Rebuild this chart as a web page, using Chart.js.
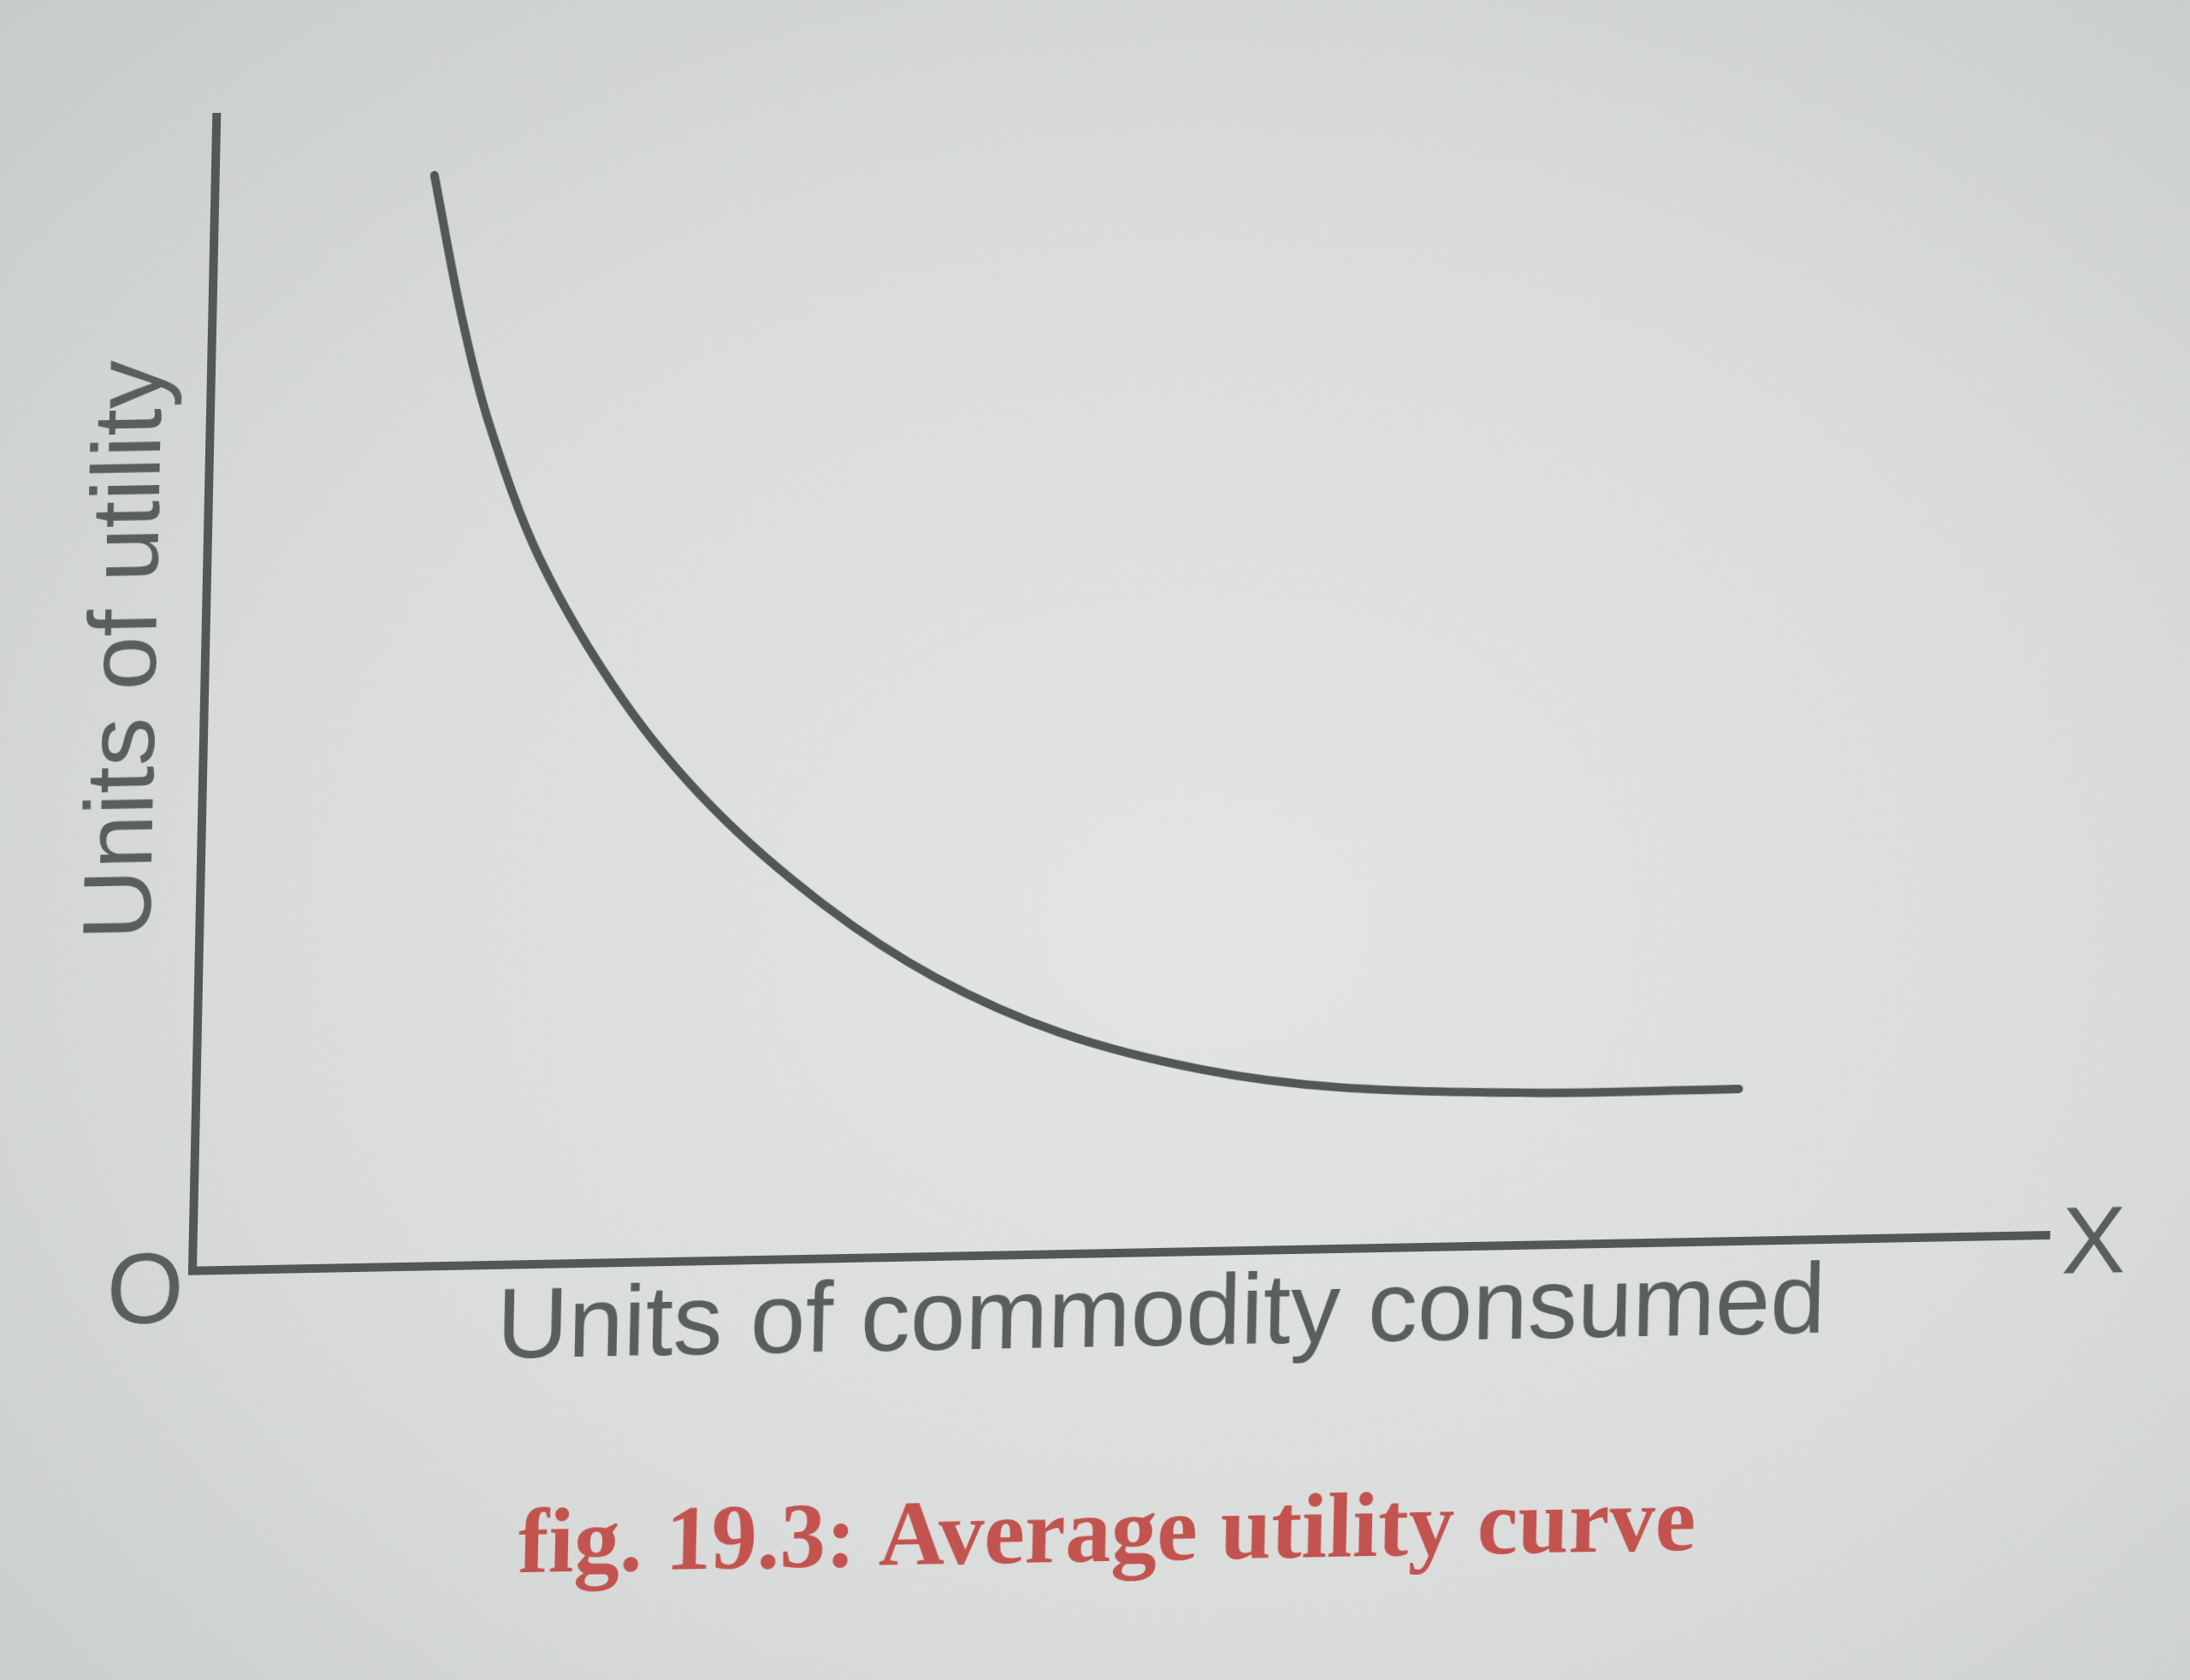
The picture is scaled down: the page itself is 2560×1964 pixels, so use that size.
<!DOCTYPE html>
<html lang="en">
<head>
  <meta charset="UTF-8" />
  <title>Average utility curve</title>
  <script src="https://cdn.jsdelivr.net/npm/chart.js"></script>
  <style>
    html, body {
      margin: 0;
      padding: 0;
      overflow: hidden;
    }
    body {
      width: 2560px;
      height: 1964px;
      background: radial-gradient(ellipse at 55% 55%, #e2e5e3 0%, #d9dcda 55%, #c8ccc9 100%);
    }
    /* the page in the photo is slightly sheared, so the whole drawing is too */
    #wrap {
      width: 2560px;
      height: 1964px;
      transform-origin: 225px 1486px;
      transform: skew(-1.2deg, -1.1deg);
    }
  </style>
</head>
<body>
  <div id="wrap"><canvas id="auChart"></canvas></div>
  <script>
    // points (arbitrary units, axes run 0..10)
    const unitsConsumed = [1.18, 1.34, 1.50, 1.79, 2.25, 2.75, 3.36, 3.97, 4.65, 5.41, 6.16, 7.22, 8.31];
    const avgUtility    = [9.46, 8.25, 7.31, 6.12, 4.89, 3.93, 3.07, 2.42, 1.92, 1.58, 1.40, 1.32, 1.32];
    const xRange = [0, 10];
    const yRange = [0, 10];

    const xTitle = 'Units of commodity consumed';
    const yTitle = 'Units of utility';
    const originLabel = 'O';
    const xAxisLabel = 'X';
    const caption = 'fig. 19.3: Average utility curve';

    const ink = '#535857';
    const textInk = '#5a5f5e';
    const captionInk = '#c2534f';
    const sans = '"Liberation Sans", Arial, sans-serif';

    const paperLabels = {
      id: 'paperLabels',
      afterDraw(chart) {
        const { ctx, chartArea: a } = chart;
        ctx.save();
        ctx.fillStyle = textInk;
        ctx.textAlign = 'center';
        ctx.textBaseline = 'alphabetic';

        ctx.font = '116px ' + sans;
        ctx.fillText(xTitle, a.left + 1134, a.bottom + 109);
        ctx.fillText(originLabel, a.left - 55, a.bottom + 60);

        ctx.font = '112px ' + sans;
        ctx.fillText(xAxisLabel, a.right + 52, a.bottom + 45);

        ctx.save();
        ctx.translate(a.left - 58, a.top + 621);
        ctx.rotate(-Math.PI / 2);
        ctx.font = '114px ' + sans;
        ctx.fillText(yTitle, 0, 0);
        ctx.restore();

        ctx.fillStyle = captionInk;
        ctx.font = 'bold 107px "Liberation Serif", "Times New Roman", serif';
        ctx.fillText(caption, a.left + 1076, a.bottom + 360);
        ctx.restore();
      }
    };

    const points = unitsConsumed.map((x, i) => ({ x: x, y: avgUtility[i] }));

    new Chart(document.getElementById('auChart').getContext('2d'), {
      type: 'scatter',
      data: {
        datasets: [{
          label: 'Average utility',
          data: points,
          showLine: true,
          borderColor: ink,
          borderWidth: 10,
          borderCapStyle: 'round',
          borderJoinStyle: 'round',
          pointRadius: 0,
          pointHoverRadius: 0,
          tension: 0.33
        }]
      },
      options: {
        responsive: true,
        maintainAspectRatio: false,
        animation: false,
        layout: { padding: { left: 225, right: 164, top: 137, bottom: 478 } },
        plugins: {
          legend: { display: false },
          tooltip: { enabled: false }
        },
        scales: {
          x: {
            type: 'linear',
            min: xRange[0],
            max: xRange[1],
            ticks: { display: false },
            grid: { display: false, drawTicks: false },
            border: { display: true, color: ink, width: 10 }
          },
          y: {
            type: 'linear',
            min: yRange[0],
            max: yRange[1],
            ticks: { display: false },
            grid: { display: false, drawTicks: false },
            border: { display: true, color: ink, width: 10 }
          }
        }
      },
      plugins: [paperLabels]
    });
  </script>
</body>
</html>
